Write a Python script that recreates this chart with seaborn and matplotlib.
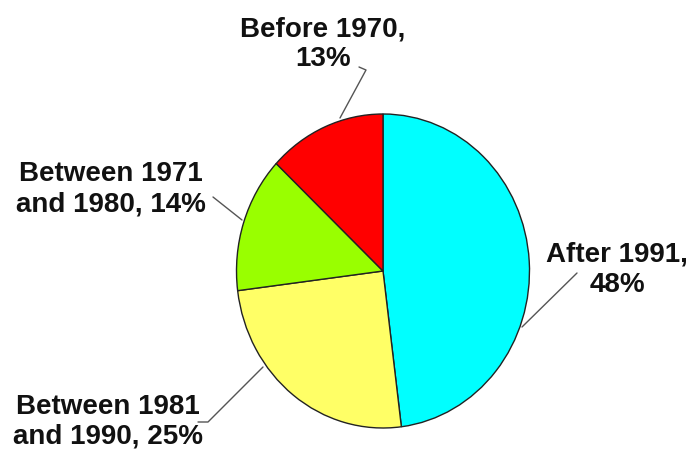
import matplotlib
matplotlib.use("Agg")
import matplotlib.pyplot as plt
import seaborn as sns

# Data
labels = ['After 1991', 'Between 1981\nand 1990', 'Between 1971\nand 1980', 'Before 1970']
shares = [48, 25, 14, 13]
colors = ['#00FFFF', '#FFFF66', '#99FF00', '#FF0000']

sns.set_theme(style='white')
plt.rcParams['font.family'] = ['Liberation Sans', 'DejaVu Sans']

W, H = 692, 459
fig = plt.figure(figsize=(W / 100, H / 100), dpi=100)
ax = fig.add_axes([0, 0, 1, 1])

ax.pie(shares, colors=colors, startangle=90, counterclock=False,
       wedgeprops={'edgecolor': '#222222', 'linewidth': 1.0})

# stretch the pie into the slightly tall ellipse of the original
cx, cy, rx, ry = 383, 271, 146.5, 157
ax.set_aspect('auto')
ax.set_xlim(-cx / rx, (W - cx) / rx)
ax.set_ylim(-(H - cy) / ry, cy / ry)
ax.axis('off')


def px(x, y):
    # pixel position (from top-left) -> data coords
    return (x - cx) / rx, (cy - y) / ry


# label text positions and leader lines (pixels)
text_pos = [(617, 270), (108, 422), (111, 189), (323, 44)]
leaders = [
    [(522, 327), (577, 273)],
    [(263, 367), (208, 422), (198, 422)],
    [(242, 220), (213, 197)],
    [(340, 118), (366, 70), (359, 67)],
]

for lab, val, (tx, ty), pts in zip(labels, shares, text_pos, leaders):
    if '\n' in lab:
        txt = f'{lab}, {val}%'
    else:
        txt = f'{lab},\n{val}%'
    x, y = px(tx, ty)
    ax.text(x, y, txt, ha='center', va='center', fontsize=20,
            fontweight='bold', color='#111111', linespacing=1.2)
    xs, ys = zip(*[px(a, b) for a, b in pts])
    ax.plot(xs, ys, color='#555555', linewidth=1.0)

fig.savefig('out.png', dpi=100, facecolor='white')
